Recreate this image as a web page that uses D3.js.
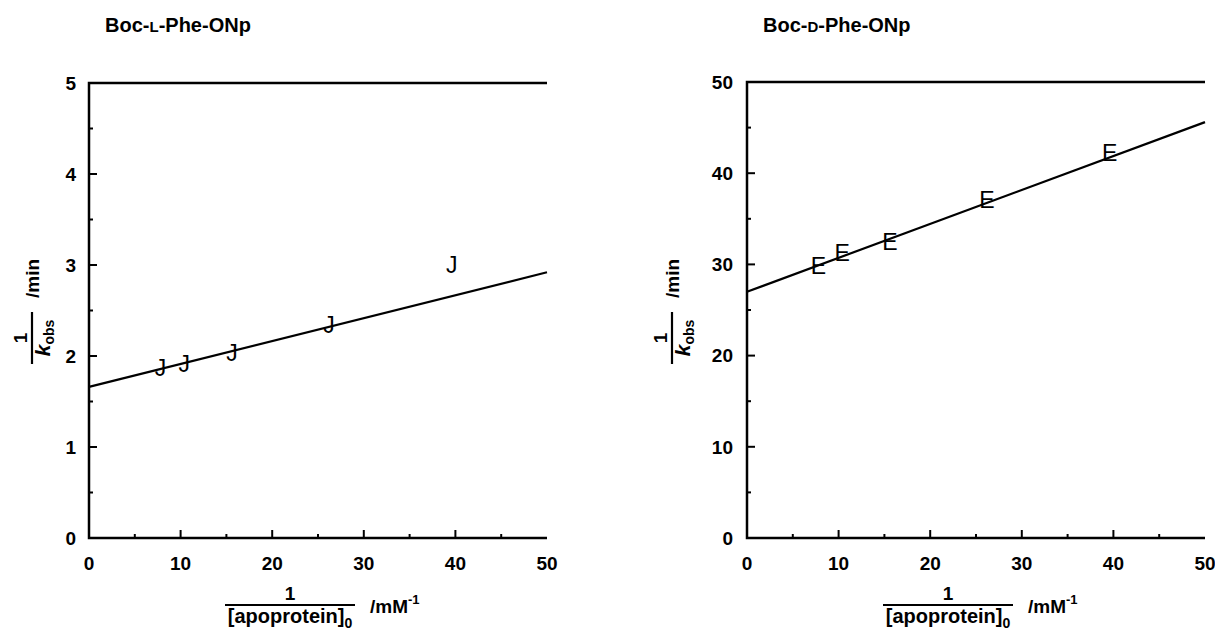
<!DOCTYPE html>
<html>
<head>
<meta charset="utf-8">
<script src="https://cdn.jsdelivr.net/npm/d3@7"></script>
<style>
  body { margin: 0; background: #fff; }
  svg { display: block; font-family: Arial, "Liberation Sans", sans-serif; }
</style>
</head>
<body>
<div id="chart"></div>
<script>
// Data
const conc = [7.8, 10.4, 15.6, 26.2, 39.6]          // 1/[apoprotein]0, mM^-1
const invKobsL = [1.87, 1.92, 2.04, 2.34, 3.0]       // Boc-L-Phe-ONp, 1/kobs (min)
const invKobsD = [29.9, 31.3, 32.5, 37.1, 42.2]      // Boc-D-Phe-ONp, 1/kobs (min)
const fitX = [0, 50]
const fitL = [1.66, 2.92]
const fitD = [27.0, 45.6]
const xTicks = [0, 10, 20, 30, 40, 50]
const yTicksL = [0, 1, 2, 3, 4, 5]
const yTicksD = [0, 10, 20, 30, 40, 50]

const width = 1215
const height = 633

const svg = d3.select('#chart')
  .append('svg')
  .attr('width', width)
  .attr('height', height)

function panel(opts) {
  const { x0, x1, yTop, yBottom, yMax, yTicks, yMinor, ys, fit, symbol, title, small, yTitleX, labelGap } = opts

  const xScale = d3.scaleLinear().domain([0, 50]).range([x0, x1])
  const yScale = d3.scaleLinear().domain([0, yMax]).range([yBottom, yTop])

  const g = svg.append('g')

  // title
  const t = g.append('text')
    .attr('x', x0 + 16)
    .attr('y', 32)
    .attr('font-size', 20)
    .attr('font-weight', 'bold')
  t.append('tspan').text('Boc-')
  t.append('tspan').attr('font-size', 15).text(small)
  t.append('tspan').text('-Phe-ONp')

  // frame: left, bottom, top
  g.append('path')
    .attr('d', `M${x1},${yTop}H${x0}V${yBottom}H${x1}`)
    .attr('fill', 'none')
    .attr('stroke', '#000')
    .attr('stroke-width', 2.5)

  // x ticks (inside)
  const xMinor = d3.range(5, 50, 10)
  g.selectAll('.xmaj').data(xTicks.slice(1, -1)).join('line')
    .attr('x1', d => xScale(d)).attr('x2', d => xScale(d))
    .attr('y1', yBottom).attr('y2', yBottom - 8)
    .attr('stroke', '#000').attr('stroke-width', 2)
  g.selectAll('.xmin').data(xMinor).join('line')
    .attr('x1', d => xScale(d)).attr('x2', d => xScale(d))
    .attr('y1', yBottom).attr('y2', yBottom - 4)
    .attr('stroke', '#000').attr('stroke-width', 2)
  g.selectAll('.xlab').data(xTicks).join('text')
    .attr('x', d => xScale(d))
    .attr('y', yBottom + 32)
    .attr('text-anchor', 'middle')
    .attr('font-size', 19)
    .attr('font-weight', 'bold')
    .text(d => d)

  // y ticks (inside)
  g.selectAll('.ymaj').data(yTicks.slice(1, -1)).join('line')
    .attr('x1', x0).attr('x2', x0 + 8)
    .attr('y1', d => yScale(d)).attr('y2', d => yScale(d))
    .attr('stroke', '#000').attr('stroke-width', 2)
  g.selectAll('.ymin').data(yMinor).join('line')
    .attr('x1', x0).attr('x2', x0 + 4)
    .attr('y1', d => yScale(d)).attr('y2', d => yScale(d))
    .attr('stroke', '#000').attr('stroke-width', 2)
  g.selectAll('.ylab').data(yTicks).join('text')
    .attr('x', x0 - labelGap)
    .attr('y', d => yScale(d))
    .attr('dy', '0.36em')
    .attr('text-anchor', 'end')
    .attr('font-size', 19)
    .attr('font-weight', 'bold')
    .text(d => d)

  // fit line
  const line = d3.line()
    .x(d => xScale(d[0]))
    .y(d => yScale(d[1]))
  g.append('path')
    .datum(d3.zip(fitX, fit))
    .attr('d', line)
    .attr('fill', 'none')
    .attr('stroke', '#000')
    .attr('stroke-width', 2.2)

  // symbols (font glyphs)
  g.selectAll('.sym').data(d3.zip(conc, ys)).join('text')
    .attr('x', d => xScale(d[0]))
    .attr('y', d => yScale(d[1]))
    .attr('dy', '0.36em')
    .attr('text-anchor', 'middle')
    .attr('font-size', 23)
    .text(symbol)

  // x axis title
  const xc = (x0 + x1) / 2 - 28
  const xt = g.append('g').attr('transform', `translate(${xc},605)`)
  fraction(xt, 'x')
  const xu = xt.append('text')
    .attr('x', 80)
    .attr('y', 8)
    .attr('font-size', 19)
    .attr('font-weight', 'bold')
  xu.append('tspan').text('/mM')
  xu.append('tspan').attr('dy', -9).attr('font-size', 13).text('-1')

  // y axis title
  const yt = g.append('g').attr('transform', `translate(${yTitleX},338) rotate(-90)`)
  fraction(yt, 'y')
  yt.append('text')
    .attr('x', 40)
    .attr('y', 7)
    .attr('font-size', 19)
    .attr('font-weight', 'bold')
    .text('/min')
}

function fraction(sel, axis) {
  const half = axis === 'x' ? 65 : 26
  sel.append('line')
    .attr('x1', -half).attr('x2', half)
    .attr('y1', 0).attr('y2', 0)
    .attr('stroke', '#000')
    .attr('stroke-width', 2.2)
  sel.append('text')
    .attr('x', 0)
    .attr('y', -5)
    .attr('text-anchor', 'middle')
    .attr('font-size', 19)
    .attr('font-weight', 'bold')
    .text('1')
  const d = sel.append('text')
    .attr('x', 0)
    .attr('y', 18)
    .attr('text-anchor', 'middle')
    .attr('font-size', 19)
    .attr('font-weight', 'bold')
  if (axis === 'x') {
    d.append('tspan').attr('font-size', 20).text('[apoprotein]')
    d.append('tspan').attr('dy', 5).attr('font-size', 14).text('0')
  } else {
    d.append('tspan').attr('font-style', 'italic').attr('font-size', 21).text('k')
    d.append('tspan').attr('dy', 4).attr('font-size', 14).text('obs')
  }
}

panel({
  x0: 89, x1: 547, yTop: 83, yBottom: 538, yMax: 5,
  yTicks: yTicksL, yMinor: d3.range(0.5, 5, 1),
  ys: invKobsL, fit: fitL, symbol: 'J',
  small: 'L', yTitleX: 32, labelGap: 13
})

panel({
  x0: 747, x1: 1205, yTop: 82, yBottom: 538, yMax: 50,
  yTicks: yTicksD, yMinor: d3.range(5, 50, 10),
  ys: invKobsD, fit: fitD, symbol: 'E',
  small: 'D', yTitleX: 672, labelGap: 14
})
</script>
</body>
</html>
